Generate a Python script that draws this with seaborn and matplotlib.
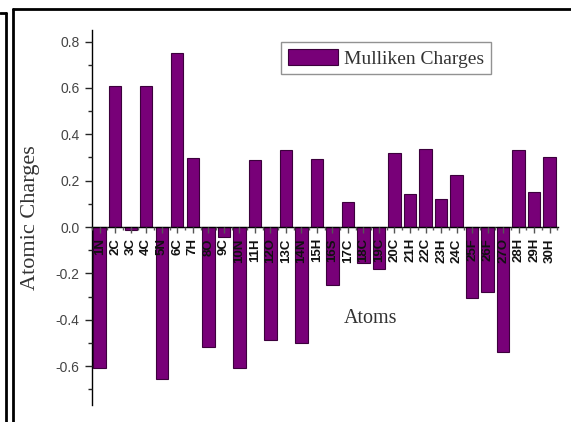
import numpy as np
import pandas as pd
import seaborn as sns
import matplotlib.pyplot as plt
from matplotlib.lines import Line2D
from matplotlib.ticker import MultipleLocator, FixedLocator

# data
atoms = ["1N", "2C", "3C", "4C", "5N", "6C", "7H", "8O", "9C", "10N",
         "11H", "12O", "13C", "14N", "15H", "16S", "17C", "18C", "19C", "20C",
         "21H", "22C", "23H", "24C", "25F", "26F", "27O", "28H", "29H", "30H"]
charges = [-0.609, 0.610, -0.013, 0.608, -0.656, 0.752, 0.296, -0.517, -0.045, -0.607,
           0.289, -0.485, 0.332, -0.502, 0.293, -0.252, 0.108, -0.155, -0.180, 0.319,
           0.142, 0.337, 0.121, 0.224, -0.305, -0.279, -0.539, 0.332, 0.151, 0.302]
series_name = "Mulliken Charges"

df = pd.DataFrame({"atom": atoms, "charge": charges})

sns.set_style("white")
plt.rcParams["font.family"] = ["Liberation Sans", "DejaVu Sans"]

fig = plt.figure(figsize=(5.71, 4.22), dpi=100, facecolor="w")
ax = fig.add_axes([0.161, 0.040, 0.816, 0.889])

sns.barplot(data=df, x="atom", y="charge", color="#780078", saturation=1,
            width=0.8, edgecolor="#3c003c", linewidth=0.8,
            label=series_name, ax=ax)

ax.set_xlim(-0.5, len(atoms) - 0.47)
ax.set_ylim(-0.768, 0.85)
# tick labels sit on top of the bars
ax.set_axisbelow(False)

# spines: left axis + zero line carrying the x ticks
for sp in ["top", "right"]:
    ax.spines[sp].set_visible(False)
ax.spines["bottom"].set_position(("data", 0))
ax.spines["bottom"].set_linewidth(1.0)
ax.spines["left"].set_linewidth(1.0)
ax.spines["bottom"].set_color("k")
ax.spines["left"].set_color("k")

ax.yaxis.set_major_locator(FixedLocator([-0.6, -0.4, -0.2, 0.0, 0.2, 0.4, 0.6, 0.8]))
ax.yaxis.set_minor_locator(MultipleLocator(0.1))
ax.set_yticklabels(["-0.6", "-0.4", "-0.2", "0.0", "0.2", "0.4", "0.6", "0.8"])
ax.xaxis.set_minor_locator(FixedLocator(np.arange(-0.5, len(atoms), 1.0)))

ax.tick_params(axis="y", which="major", direction="out", length=5, width=1,
               pad=4, labelsize=10, labelcolor="#444444", left=True)
ax.tick_params(axis="y", which="minor", direction="out", length=3, width=1, left=True)
ax.tick_params(axis="x", which="major", direction="out", length=4, width=1,
               pad=4, bottom=True, color="#555555")
ax.tick_params(axis="x", which="minor", direction="out", length=2.5, width=1,
               bottom=True, color="#555555")
for lab in ax.get_xticklabels():
    lab.set_rotation(90)
    lab.set_fontweight("bold")
    lab.set_fontsize(9.5)
    lab.set_color("#111111")

ax.set_ylabel("Atomic Charges", family=["Liberation Serif", "DejaVu Serif"],
              fontsize=16, color="#333333")
ax.yaxis.set_label_coords(-0.112, 0.5)
ax.set_xlabel("Atoms", family=["Liberation Serif", "DejaVu Serif"],
              fontsize=14.5, color="#333333")
ax.xaxis.set_label_coords(0.597, 0.255)

leg = ax.legend(loc="upper left", bbox_to_anchor=(0.4056, 0.968), borderaxespad=0,
                frameon=True, fancybox=False, edgecolor="#777777",
                prop={"family": ["Liberation Serif", "DejaVu Serif"], "size": 14},
                handlelength=2.6, handleheight=0.9, handletextpad=0.3,
                borderpad=0.35)
leg.get_frame().set_linewidth(1.0)
for t in leg.get_texts():
    t.set_color("#333333")

# the page frame lines round the figure
fig.add_artist(Line2D([12.5 / 571, 1.0], [1 - 9 / 422, 1 - 9 / 422], color="k", lw=2,
                      transform=fig.transFigure))
fig.add_artist(Line2D([12.5 / 571, 12.5 / 571], [0, 1 - 9 / 422], color="k", lw=2,
                      transform=fig.transFigure))
fig.add_artist(Line2D([0, 6 / 571], [1 - 13 / 422, 1 - 13 / 422], color="k", lw=2,
                      transform=fig.transFigure))
fig.add_artist(Line2D([6 / 571, 6 / 571], [0, 1 - 13 / 422], color="k", lw=2,
                      transform=fig.transFigure))

fig.savefig("out.png", dpi=100, facecolor="w")
